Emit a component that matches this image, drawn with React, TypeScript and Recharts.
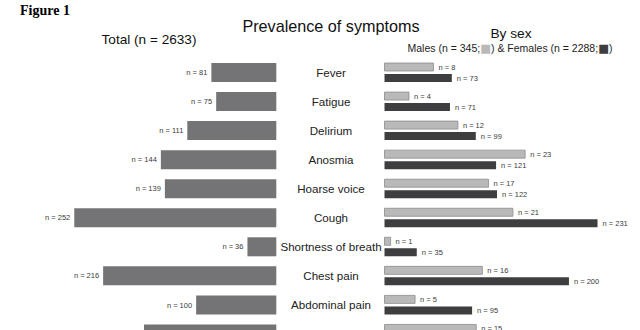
import { BarChart, Bar, XAxis, YAxis, LabelList } from 'recharts'

// Symptom counts, total cohort and split by sex (last row is cut off in the figure)
const categories = ['Fever', 'Fatigue', 'Delirium', 'Anosmia', 'Hoarse voice', 'Cough', 'Shortness of breath', 'Chest pain', 'Abdominal pain', 'Diarrhoea']
const totalCounts = [81, 75, 111, 144, 139, 252, 36, 216, 100, 165]
const maleCounts = [8, 4, 12, 23, 17, 21, 1, 16, 5, 15]
const femaleCounts = [73, 71, 99, 121, 122, 231, 35, 200, 95, 150]

const TOTAL_N = 2633
const MALE_N = 345
const FEMALE_N = 2288

const TOTAL_COLOR = '#747477'
const MALE_COLOR = '#b9b9b9'
const MALE_EDGE = '#8c8c8c'
const FEMALE_COLOR = '#3e3e41'
const FONT = '"Liberation Sans", Arial, Helvetica, sans-serif'

// bars are drawn as % of each group, labels keep the raw counts
const rows = categories.map((name, i) => ({
  name,
  total: (totalCounts[i] / TOTAL_N) * 100,
  totalN: totalCounts[i],
  male: (maleCounts[i] / MALE_N) * 100,
  maleN: maleCounts[i],
  female: (femaleCounts[i] / FEMALE_N) * 100,
  femaleN: femaleCounts[i],
}))

const CHART_H = 350.5
const MARGIN_TOP = 58

function LeftLabel(props: any) {
  const { x, y, width, height, value } = props
  const edge = Math.min(x, x + width)
  return (
    <text x={edge - 4} y={y + height / 2} dy="0.35em" textAnchor="end" fontSize={7.5} fill="#3a3a3a" fontFamily={FONT}>
      n = {value}
    </text>
  )
}

function RightLabel(props: any) {
  const { x, y, width, height, value } = props
  const edge = Math.max(x, x + width)
  return (
    <text x={edge + 5} y={y + height / 2} dy="0.35em" textAnchor="start" fontSize={7.5} fill="#3a3a3a" fontFamily={FONT}>
      n = {value}
    </text>
  )
}

function CategoryTick(props: any) {
  const { y, payload } = props
  return (
    <text x={331} y={y} dy="0.36em" textAnchor="middle" fontSize={11.6} fill="#222" fontFamily={FONT}>
      {payload.value}
    </text>
  )
}

export default function App() {
  return (
    <div style={{ position: 'absolute', left: 0, top: 0, width: 640, height: 330, overflow: 'hidden', background: '#fff' }}>
      {/* left: total cohort, growing leftwards, with the symptom names */}
      <div style={{ position: 'absolute', left: 0, top: 0 }}>
        <BarChart width={384} height={CHART_H} data={rows} layout="vertical" margin={{ top: MARGIN_TOP, right: 0, bottom: 2, left: 23 }}>
          <XAxis type="number" domain={[0, 12]} reversed hide />
          <YAxis type="category" dataKey="name" orientation="right" width={107.7} axisLine={false} tickLine={false} interval={0} tick={CategoryTick} />
          <Bar dataKey="total" fill={TOTAL_COLOR} barSize={19} isAnimationActive={false}>
            <LabelList dataKey="totalN" content={LeftLabel} />
          </Bar>
        </BarChart>
      </div>

      {/* right: males and females */}
      <div style={{ position: 'absolute', left: 384, top: 0 }}>
        <BarChart width={256} height={CHART_H} data={rows} layout="vertical" barGap={3} margin={{ top: MARGIN_TOP, right: 2.3, bottom: 2, left: 0.5 }}>
          <XAxis type="number" domain={[0, 12]} hide />
          <YAxis type="category" dataKey="name" hide />
          <Bar dataKey="male" fill={MALE_COLOR} stroke={MALE_EDGE} strokeWidth={0.8} barSize={8} isAnimationActive={false}>
            <LabelList dataKey="maleN" content={RightLabel} />
          </Bar>
          <Bar dataKey="female" fill={FEMALE_COLOR} barSize={8} isAnimationActive={false}>
            <LabelList dataKey="femaleN" content={RightLabel} />
          </Bar>
        </BarChart>
      </div>

      {/* titles */}
      <svg width={640} height={60} style={{ position: 'absolute', left: 0, top: 0, pointerEvents: 'none' }}>
        <text x={20} y={14.5} fontSize={14} fontWeight="bold" fontFamily='"Liberation Serif", "Times New Roman", serif' fill="#000">
          Figure 1
        </text>
        <text x={331} y={31.5} textAnchor="middle" fontSize={16.2} fontFamily={FONT} fill="#111">
          Prevalence of symptoms
        </text>
        <text x={149} y={44} textAnchor="middle" fontSize={13.6} fontFamily={FONT} fill="#111">
          Total (n = 2633)
        </text>
        <text x={511} y={38} textAnchor="middle" fontSize={13.7} fontFamily={FONT} fill="#111">
          By sex
        </text>
        <text x={510} y={52} textAnchor="middle" fontSize={10.5} fontFamily={FONT} fill="#222">
          Males (n = 345;<tspan fill={MALE_COLOR} fontSize={11.5} fontFamily='"DejaVu Sans", sans-serif'>■</tspan>) &amp; Females (n = 2288;<tspan fill={FEMALE_COLOR} fontSize={11.5} fontFamily='"DejaVu Sans", sans-serif'>■</tspan>)
        </text>
      </svg>
    </div>
  )
}
